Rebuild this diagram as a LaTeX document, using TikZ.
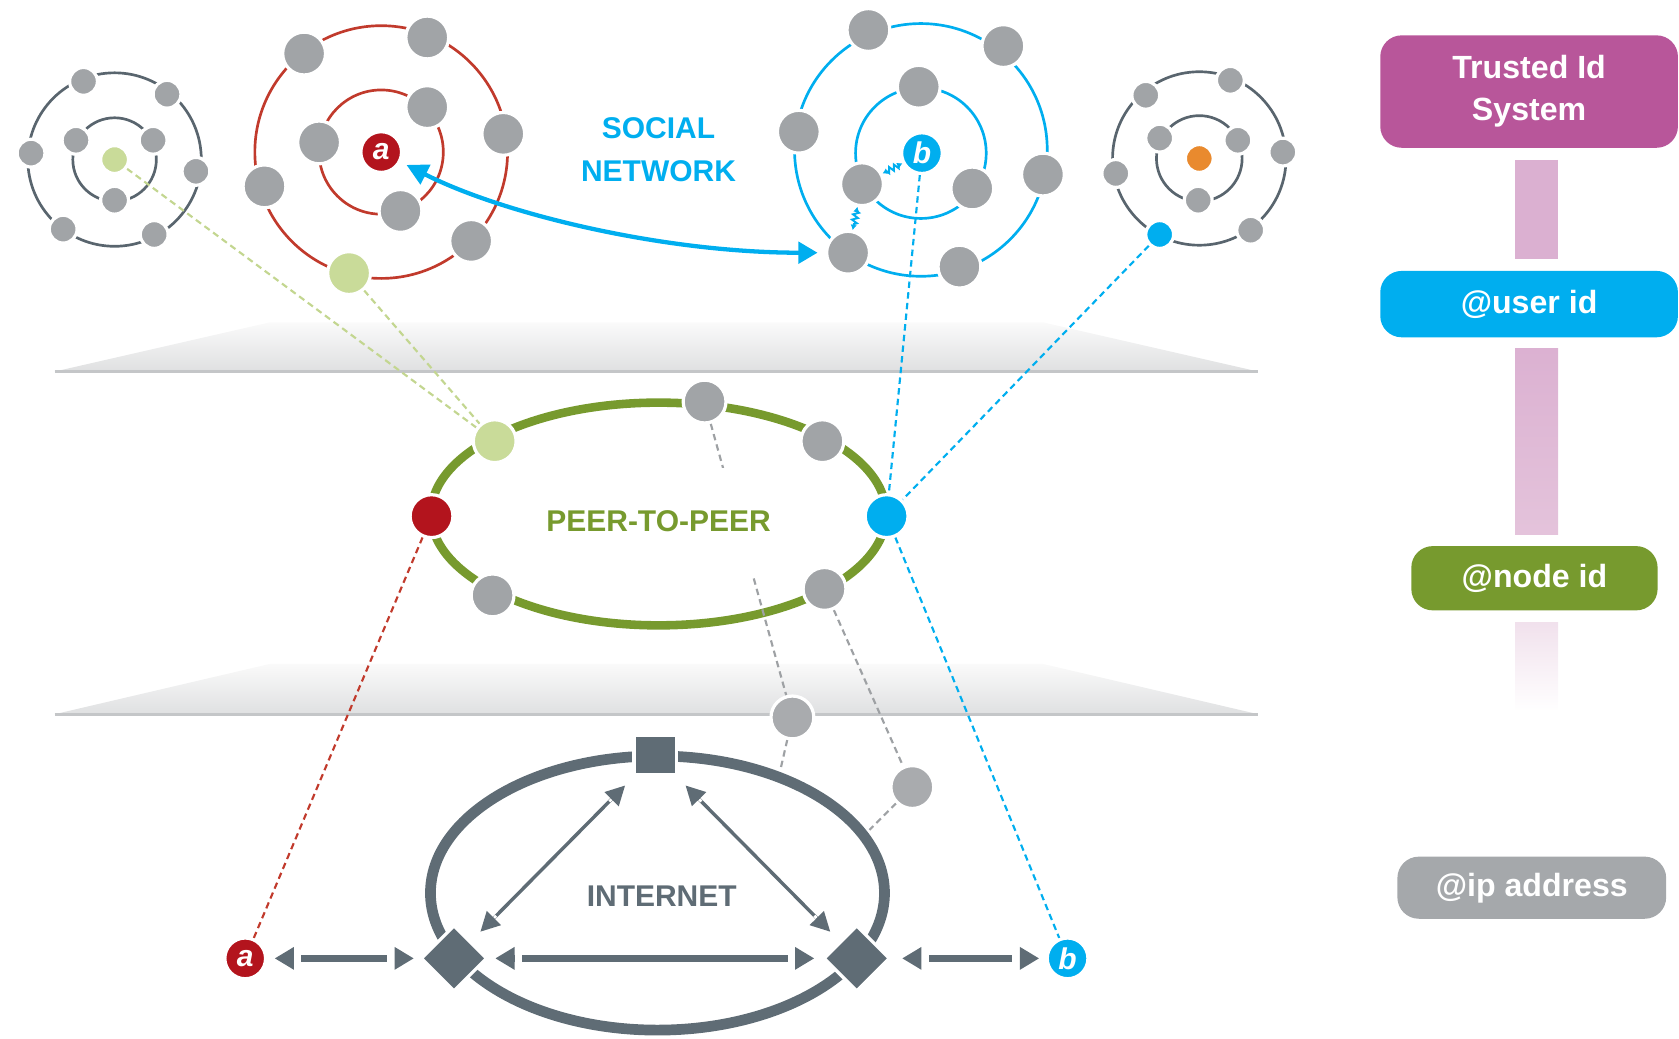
\documentclass[tikz,border=0pt]{standalone}
\usepackage{fontspec}
\setmainfont{Liberation Sans}
\usetikzlibrary{shapes.geometric,arrows.meta,decorations.pathmorphing}
\pgfdeclarelayer{back}
\pgfdeclarelayer{mid}
\pgfsetlayers{back,mid,main}
\definecolor{nodegray}{HTML}{A1A4A7}
\definecolor{inetgray}{HTML}{A9ABAE}
\definecolor{lgreen}{HTML}{C9DB99}
\definecolor{lgreendash}{HTML}{C3D690}
\definecolor{redc}{HTML}{B3141D}
\definecolor{redring}{HTML}{C13A2C}
\definecolor{bluec}{HTML}{00AEEF}
\definecolor{p2pgreen}{HTML}{779A2E}
\definecolor{orangec}{HTML}{E98A2E}
\definecolor{ringgray}{HTML}{59656E}
\definecolor{slate}{HTML}{5F6C75}
\definecolor{magentac}{HTML}{B8569A}
\definecolor{pinkc}{HTML}{DBB0D1}
\definecolor{pinkc2}{HTML}{E4C3DB}
\definecolor{pinkc3}{HTML}{EFDDEA}
\definecolor{ipgray}{HTML}{A5A8AB}
\definecolor{dashgray}{HTML}{9EA1A4}
\definecolor{planetop}{HTML}{FAFAFA}
\definecolor{planebot}{HTML}{DFE0E1}
\definecolor{planeline}{HTML}{C4C6C8}
\begin{document}
\begin{tikzpicture}[x=0.5pt,y=-0.5pt,
  sgn/.style={circle, fill=nodegray, draw=white, line width=1.5pt, minimum size=13pt, inner sep=0pt},
  bgn/.style={circle, fill=nodegray, draw=white, line width=1.5pt, minimum size=20pt, inner sep=0pt},
  letter/.style={circle, draw=white, line width=1.5pt, minimum size=19pt, inner sep=0pt, text=white, font=\fontsize{14}{14}\selectfont\bfseries\itshape},
  ring/.style={line width=1.25pt},
  dsh/.style={line width=1pt, dash pattern=on 3pt off 2pt},
  sqnode/.style={rectangle, fill=slate, draw=white, line width=1.5pt, minimum width=20pt, minimum height=18.5pt, inner sep=0pt},
  dia/.style={diamond, fill=slate, draw=white, line width=1.5pt, minimum width=31pt, minimum height=31pt, inner sep=0pt},
  harrow/.style={slate, line width=3pt,
    {Triangle[length=9pt,width=10pt] Rectangle[length=3.5pt,width=0.2pt,color=white]}-{Rectangle[length=3.5pt,width=0.2pt,color=white] Triangle[length=9pt,width=10pt]}},
  darrow/.style={slate, line width=1.6pt,
    {Triangle[length=9pt,width=9pt] Rectangle[length=1.5pt,width=0.2pt,color=white]}-{Rectangle[length=1.5pt,width=0.2pt,color=white] Triangle[length=9pt,width=9pt]},
    shorten <=6pt, shorten >=6pt},
  zzarrow/.style={bluec, line width=0.9pt, decorate, decoration={zigzag, amplitude=1.3pt, segment length=2.5pt, pre length=2pt, post length=2pt}, {Latex[length=2.5pt,width=3pt]}-{Latex[length=2.5pt,width=3pt]}},
  idbox/.style={rectangle, rounded corners=10pt, text=white, inner sep=2pt, font=\fontsize{15}{19.5}\selectfont\bfseries},
  bigtext/.style={font=\fontsize{14}{20}\selectfont\bfseries}
]
\useasboundingbox (0,0) rectangle (1568,970);

% ---------- planes ----------
\begin{pgfonlayer}{back}
\shade[top color=planetop, bottom color=planebot] (51,347) -- (252,301) -- (974,301) -- (1175,347) -- cycle;
\draw[planeline, line width=1.2pt] (51,347) -- (1175,347);
\shade[top color=planetop, bottom color=planebot] (51,667) -- (252,620) -- (974,620) -- (1175,667) -- cycle;
\draw[planeline, line width=1.2pt] (51,667) -- (1175,667);
\end{pgfonlayer}

% ---------- left cluster ----------
\node[sgn] (L1) at (78,76) {};
\node[sgn] (L2) at (156,88) {};
\node[sgn] (L3) at (29,143) {};
\node[sgn] (L4) at (183,160) {};
\node[sgn] (L5) at (59,214) {};
\node[sgn] (L6) at (144,219) {};
\node[sgn] (L7) at (71,131) {};
\node[sgn] (L8) at (143,131) {};
\node[sgn] (L9) at (107,187) {};
\node[sgn, fill=lgreen] (Lc) at (107,149) {};

% ---------- red cluster ----------
\node[letter, fill=redc] (A) at (356,142) {a};
\node[bgn] (A1) at (284,50) {};
\node[bgn] (A2) at (399,35) {};
\node[bgn] (A3) at (470,125) {};
\node[bgn] (A4) at (247,174) {};
\node[bgn] (A5) at (440,225) {};
\node[bgn, fill=lgreen] (Ag) at (326,255) {};
\node[bgn] (A6) at (399,100) {};
\node[bgn] (A7) at (298,133) {};
\node[bgn] (A8) at (374,197) {};

% ---------- blue cluster ----------
\node[letter, fill=bluec] (B) at (861,143) {b};
\node[bgn] (B1) at (811,28) {};
\node[bgn] (B2) at (937,43) {};
\node[bgn] (B3) at (746,123) {};
\node[bgn] (B4) at (974,163) {};
\node[bgn] (B5) at (792,236) {};
\node[bgn] (B6) at (896,249) {};
\node[bgn] (B7) at (858,81) {};
\node[bgn] (B8) at (805,172) {};
\node[bgn] (B9) at (908,176) {};

% ---------- right cluster ----------
\node[sgn, fill=orangec] (Rc) at (1120,148) {};
\node[sgn] (R1) at (1070,89) {};
\node[sgn] (R2) at (1149,75) {};
\node[sgn] (R3) at (1198,142) {};
\node[sgn] (R4) at (1168,215) {};
\node[sgn, fill=bluec] (Rb) at (1083,219) {};
\node[sgn] (R5) at (1042,162) {};
\node[sgn] (R6) at (1083,129) {};
\node[sgn] (R7) at (1156,131) {};
\node[sgn] (R8) at (1119,187) {};

\node[bigtext, text=bluec, align=center] (SN) at (615,140) {SOCIAL\\NETWORK};

% ---------- peer-to-peer ----------
\node[bgn, fill=lgreen] (Pg) at (462,412) {};
\node[bgn] (P1) at (658,375) {};
\node[bgn] (P2) at (768,412) {};
\node[bgn, fill=redc] (Pr) at (403,482) {};
\node[bgn, fill=bluec] (Pb) at (828,482) {};
\node[bgn] (P3) at (460,556) {};
\node[bgn] (P4) at (770,550) {};
\node[bigtext, text=p2pgreen, fill=white, minimum height=50pt, inner sep=1pt] (PP) at (615,487) {PEER-TO-PEER};

% ---------- internet ----------
\node[sqnode] (S) at (612,705) {};
\node[dia] (DL) at (424,895) {};
\node[dia] (DR) at (800,895) {};
\node[letter, fill=redc] (Ia) at (229,895) {a};
\node[letter, fill=bluec] (Ib) at (997,895) {b};
\node[bgn, fill=inetgray] (I1) at (740,670) {};
\node[bgn, fill=inetgray] (I2) at (852,735) {};
\coordinate (e1) at (729,718);
\coordinate (e2) at (812,775);
\node[bigtext, text=slate] (IN) at (618,837) {INTERNET};

% ---------- id panel ----------
\node[idbox, fill=magentac, minimum width=139pt, minimum height=52.5pt, align=center] (T) at (1428,85.5) {Trusted Id\\System};
\node[idbox, fill=bluec, minimum width=139pt, minimum height=31pt] (U) at (1428,284) {@user id};
\node[idbox, fill=p2pgreen, minimum width=115pt, minimum height=30pt] (N) at (1433,540) {@node id};
\node[idbox, fill=ipgray, minimum width=125.5pt, minimum height=29pt] (IP) at (1430.5,829) {@ip address};
\coordinate (bx) at (1435,0);

\begin{pgfonlayer}{mid}
% bars
\draw[pinkc, line width=20pt, shorten <=5.5pt, shorten >=5.5pt] (T.south -| bx) -- (U.north -| bx);
\shade[top color=pinkc, bottom color=pinkc2] (U.south -| bx) ++(-20,10) rectangle ++(40,174);
\shade[top color=pinkc3, bottom color=white] (N.south -| bx) ++(-20,11) rectangle ++(40,83);
% rings
\draw[ringgray, ring] (107,149) circle [radius=39];
\draw[ringgray, ring] (107,149) circle [radius=81];
\draw[redring, ring] (356,142) circle [radius=58];
\draw[redring, ring] (356,142) circle [radius=118];
\draw[bluec, ring] (860,143) circle [radius=61];
\draw[bluec, ring] (860,140) circle [radius=118];
\draw[ringgray, ring] (1120,148) circle [radius=40];
\draw[ringgray, ring] (1120,148) circle [radius=81];
\draw[p2pgreen, line width=4pt] (615,480) ellipse [x radius=212.5, y radius=104];
\draw[slate, line width=5pt] (614,834) ellipse [x radius=212, y radius=128];
% dashed links
\draw[dsh, lgreendash] (Lc) -- (Pg);
\draw[dsh, lgreendash] (Ag) -- (Pg);
\draw[dsh, bluec] (B) -- (Pb);
\draw[dsh, bluec] (Rb) -- (Pb);
\draw[dsh, redring] (Pr) -- (Ia);
\draw[dsh, bluec] (Pb) -- (Ib);
\draw[dsh, dashgray] (P1) -- (I1) -- (e1);
\draw[dsh, dashgray] (P4) -- (I2) -- (e2);
% social arrows
\draw[bluec, line width=2pt, {Triangle[length=10pt,width=10pt]}-{Triangle[length=9pt,width=10pt]}, shorten <=3pt, shorten >=3.5pt] (A) .. controls (470,200) and (620,236) .. (B5);
\draw[zzarrow] (B) -- (B8);
\draw[zzarrow] (B8) -- (B5);
% internet arrows
\draw[harrow, shorten <=3.5pt, shorten >=2.5pt] (Ia) -- (DL);
\draw[harrow, shorten <=3pt, shorten >=3.5pt] (DL) -- (DR);
\draw[harrow, shorten <=5pt, shorten >=3pt] (DR) -- (Ib);
\draw[darrow] (DL) -- (S);
\draw[darrow] (S) -- (DR);
\end{pgfonlayer}
\end{tikzpicture}
\end{document}
